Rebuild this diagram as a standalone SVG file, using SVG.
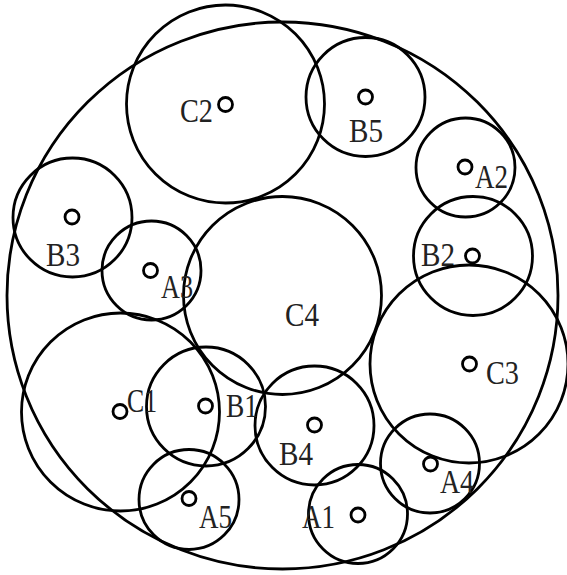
<svg xmlns="http://www.w3.org/2000/svg" width="567" height="575" viewBox="0 0 567 575">
<style>
.c{fill:none;stroke:#000;stroke-width:2.8}
.d{fill:none;stroke:#000;stroke-width:2.8}
.t{font-family:"Liberation Serif","DejaVu Serif",serif;font-size:33px;fill:#222}
</style>
<rect width="567" height="575" fill="#fff"/>
<g id="outer"><ellipse class="c" cx="282.5" cy="295.5" rx="275.5" ry="273.5"/></g>
<g id="C2"><circle class="c" cx="225.5" cy="104" r="99"/><circle class="d" cx="225.5" cy="104.5" r="7"/><text class="t" x="180" y="122" textLength="33" lengthAdjust="spacingAndGlyphs">C2</text></g>
<g id="B5"><circle class="c" cx="365.5" cy="97" r="59.5"/><circle class="d" cx="365.5" cy="97" r="7"/><text class="t" x="349" y="142" textLength="34" lengthAdjust="spacingAndGlyphs">B5</text></g>
<g id="A2"><circle class="c" cx="465.5" cy="167.5" r="49.5"/><circle class="d" cx="465" cy="167" r="7"/><text class="t" x="475" y="188" textLength="33" lengthAdjust="spacingAndGlyphs">A2</text></g>
<g id="B2"><circle class="c" cx="473" cy="256" r="59.5"/><circle class="d" cx="472.5" cy="256" r="7"/><text class="t" x="421" y="266" textLength="34" lengthAdjust="spacingAndGlyphs">B2</text></g>
<g id="C3"><circle class="c" cx="469" cy="364" r="99"/><circle class="d" cx="469.5" cy="364" r="7"/><text class="t" x="486" y="384" textLength="33" lengthAdjust="spacingAndGlyphs">C3</text></g>
<g id="A4"><circle class="c" cx="430" cy="463.5" r="49.5"/><circle class="d" cx="430.5" cy="464" r="7"/><text class="t" x="440" y="493" textLength="34" lengthAdjust="spacingAndGlyphs">A4</text></g>
<g id="A1"><circle class="c" cx="358" cy="514" r="49.5"/><circle class="d" cx="358" cy="515" r="7"/><text class="t" x="302" y="528" textLength="33" lengthAdjust="spacingAndGlyphs">A1</text></g>
<g id="B4"><circle class="c" cx="314.5" cy="425.5" r="59.5"/><circle class="d" cx="314.5" cy="425" r="7"/><text class="t" x="279" y="465" textLength="34" lengthAdjust="spacingAndGlyphs">B4</text></g>
<g id="C4"><circle class="c" cx="282.5" cy="295.5" r="99"/><text class="t" x="285" y="326" textLength="34" lengthAdjust="spacingAndGlyphs">C4</text></g>
<g id="B1"><circle class="c" cx="206" cy="406.5" r="59.5"/><circle class="d" cx="205.5" cy="406" r="7"/><text class="t" x="226" y="417" textLength="32" lengthAdjust="spacingAndGlyphs">B1</text></g>
<g id="C1"><circle class="c" cx="120.5" cy="412" r="99"/><circle class="d" cx="120" cy="411.5" r="7"/><text class="t" x="127" y="412" textLength="30" lengthAdjust="spacingAndGlyphs">C1</text></g>
<g id="A5"><circle class="c" cx="189" cy="499.5" r="50"/><circle class="d" cx="189" cy="498.5" r="7"/><text class="t" x="199" y="528" textLength="33" lengthAdjust="spacingAndGlyphs">A5</text></g>
<g id="B3"><circle class="c" cx="72.5" cy="217.5" r="59.5"/><circle class="d" cx="72" cy="217" r="7"/><text class="t" x="46" y="266" textLength="34" lengthAdjust="spacingAndGlyphs">B3</text></g>
<g id="A3"><circle class="c" cx="151.5" cy="270.5" r="49.5"/><circle class="d" cx="150.5" cy="270.5" r="7"/><text class="t" x="161" y="298" textLength="32" lengthAdjust="spacingAndGlyphs">A3</text></g>
</svg>
